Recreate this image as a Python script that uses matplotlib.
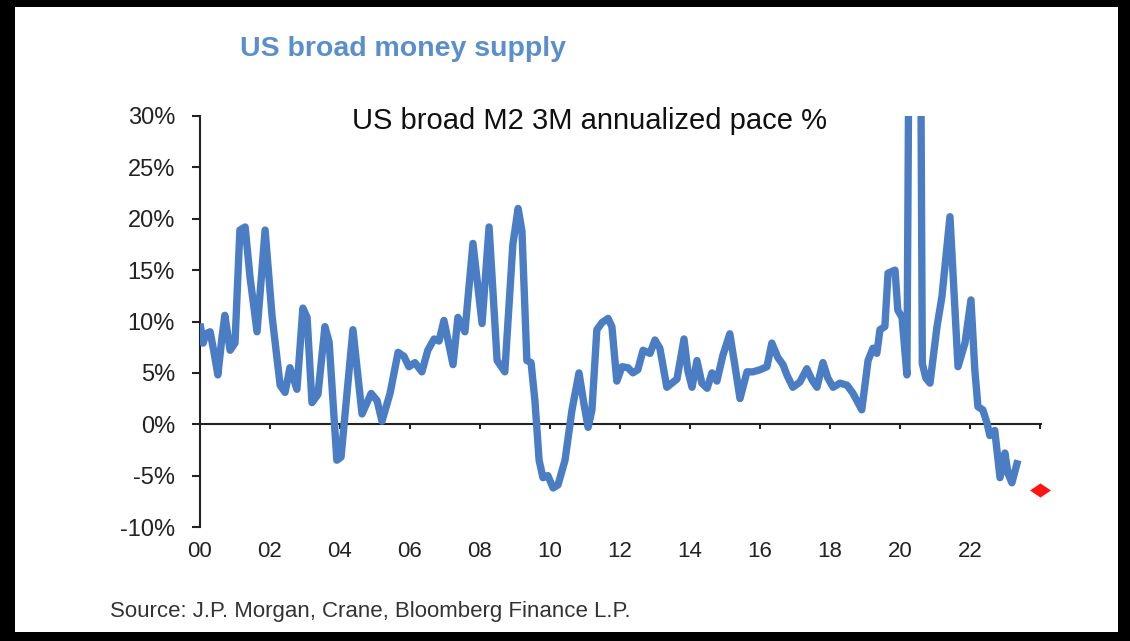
import numpy as np
import matplotlib.pyplot as plt
import matplotlib.patches as ptch
from matplotlib.path import Path

plt.rcParams['font.family'] = ['Liberation Sans', 'DejaVu Sans']

# Время в годах от 2000 г. (дробное) и темп M2 за 3 мес. в годовом выражении, %
yrs = [0.00, 0.09, 0.17, 0.29, 0.40, 0.51, 0.63, 0.71, 0.86, 1.00,
       1.14, 1.29, 1.43, 1.63, 1.86, 2.06, 2.29, 2.43, 2.57, 2.77,
       2.94, 3.06, 3.20, 3.37, 3.57, 3.69, 3.91, 4.03, 4.37, 4.63,
       4.89, 5.06, 5.20, 5.43, 5.66, 5.83, 5.97, 6.14, 6.34, 6.51,
       6.69, 6.83, 6.97, 7.23, 7.37, 7.57, 7.80, 8.06, 8.26, 8.49,
       8.71, 8.94, 9.09, 9.20, 9.34, 9.46, 9.57, 9.69, 9.80, 9.94,
       10.09, 10.23, 10.43, 10.63, 10.83, 10.97, 11.09, 11.20, 11.34, 11.49,
       11.66, 11.77, 11.91, 12.06, 12.23, 12.37, 12.51, 12.66, 12.86, 13.00,
       13.14, 13.34, 13.63, 13.83, 13.94, 14.06, 14.20, 14.34, 14.49, 14.63,
       14.77, 14.94, 15.14, 15.29, 15.43, 15.63, 15.80, 16.00, 16.20, 16.34,
       16.51, 16.66, 16.77, 16.94, 17.14, 17.34, 17.49, 17.63, 17.80, 17.94,
       18.09, 18.29, 18.49, 18.66, 18.91, 19.09, 19.23, 19.34, 19.43, 19.57,
       19.66, 19.86, 19.94, 20.06, 20.20, 20.27, 20.37, 20.49, 20.59, 20.64,
       20.74, 20.86, 21.06, 21.20, 21.43, 21.66, 21.86, 22.03, 22.14, 22.23,
       22.37, 22.49, 22.57, 22.71, 22.86, 23.00, 23.09, 23.20, 23.37]
m2 = [9.8, 7.9, 8.8, 9.0, 7.0, 4.8, 8.5, 10.6, 7.2, 7.9,
      18.9, 19.2, 14.3, 9.0, 18.9, 10.5, 3.8, 3.1, 5.5, 3.4,
      11.3, 10.4, 2.1, 2.9, 9.5, 8.0, -3.5, -3.2, 9.2, 1.0,
      3.0, 2.3, 0.3, 3.0, 7.0, 6.6, 5.6, 6.0, 5.1, 7.2,
      8.3, 8.1, 10.1, 5.8, 10.4, 9.0, 17.6, 9.8, 19.2, 6.2,
      5.1, 17.5, 21.0, 18.8, 6.2, 6.0, 2.3, -3.5, -5.2, -5.0,
      -6.2, -5.9, -3.5, 1.4, 5.0, 2.0, -0.3, 1.4, 9.2, 9.9,
      10.3, 9.5, 4.2, 5.6, 5.5, 5.0, 5.3, 7.2, 6.9, 8.2,
      7.4, 3.6, 4.4, 8.3, 5.2, 3.6, 6.2, 4.0, 3.5, 5.0,
      4.2, 6.7, 8.8, 5.6, 2.5, 5.1, 5.1, 5.3, 5.6, 7.9,
      6.5, 5.8, 4.8, 3.6, 4.1, 5.4, 4.3, 3.6, 6.0, 4.5,
      3.6, 4.0, 3.8, 3.0, 1.4, 6.2, 7.4, 6.9, 9.2, 9.5,
      14.7, 15.0, 11.1, 10.4, 4.8, 45.0, 75.0, 62.0, 40.0, 5.9,
      4.5, 4.0, 9.5, 12.4, 20.2, 5.6, 7.9, 12.1, 5.3, 1.7,
      1.4, 0.1, -1.1, -0.6, -5.2, -2.8, -4.8, -5.7, -3.5]

# Прогноз на конец периода
fcst_yr = 24.0
fcst_val = -6.4

ticks_y = [-10, -5, 0, 5, 10, 15, 20, 25, 30]
ticks_x = list(range(0, 23, 2))
labels_x = ['%02d' % k for k in ticks_x]

W, H = 1130, 641
fig = plt.figure(figsize=(W/100, H/100), dpi=100, facecolor='black')
fig.patches.append(ptch.Rectangle((15/W, 1 - 632/H), (1118 - 15)/W, (632 - 7)/H,
                                  transform=fig.transFigure, facecolor='white',
                                  edgecolor='none', zorder=-5))

ax = fig.add_axes([200/W, 1 - 527/H, (1042 - 200)/W, (527 - 116)/H])
ax.set_facecolor('white')
ax.plot(yrs, m2, color='#4A7DC4', lw=5.3, solid_joinstyle='round',
        solid_capstyle='butt', zorder=3)

# Ромб - прогноз
diamond = Path([(-1, 0), (0, 0.68), (1, 0), (0, -0.68), (-1, 0)],
               [Path.MOVETO, Path.LINETO, Path.LINETO, Path.LINETO, Path.CLOSEPOLY])
ax.plot(fcst_yr, fcst_val, marker=diamond, ms=15, color='#FF1414', mec='none',
        ls='none', clip_on=False, zorder=4)

# Нулевая линия с засечками
ax.axhline(0, color='#222222', lw=1.5, zorder=2)
ax.vlines(range(2, 25, 2), -0.5, 0, color='#222222', lw=1.5, zorder=2)

ax.set_xlim(0, 24.06)
ax.set_ylim(-10, 30)
for s in ['top', 'right', 'bottom']:
    ax.spines[s].set_visible(False)
ax.spines['left'].set_color('#222222')
ax.spines['left'].set_linewidth(1.5)

ax.set_yticks(ticks_y)
ax.set_yticklabels(['%d%%' % v for v in ticks_y])
ax.tick_params(axis='y', length=6, width=1.5, color='#222222', pad=12,
               labelsize=17, labelcolor='#222222')
ax.set_xticks(ticks_x)
ax.set_xticklabels(labels_x)
ax.tick_params(axis='x', length=0, pad=10, labelsize=16, labelcolor='#222222')

fig.text(240/W, 1 - 49/H, 'US broad money supply', fontsize=20.5,
         fontweight='bold', color='#5B8FCC', va='center')
fig.text(352/W, 1 - 121/H, 'US broad M2 3M annualized pace %', fontsize=21,
         color='#111111', va='center')
fig.text(110/W, 1 - 612/H, 'Source: J.P. Morgan, Crane, Bloomberg Finance L.P.',
         fontsize=16, color='#333333', va='center')

fig.savefig('out.png', dpi=100, facecolor='black')
